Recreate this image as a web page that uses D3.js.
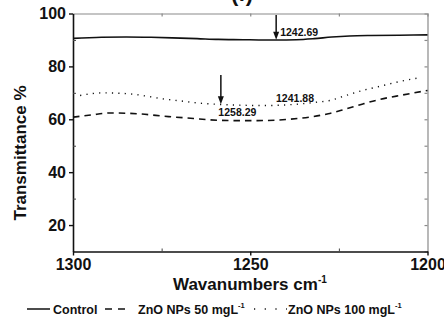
<!DOCTYPE html>
<html>
<head>
<meta charset="utf-8">
<script src="https://cdn.jsdelivr.net/npm/d3@7"></script>
<style>
  html, body { margin: 0; padding: 0; background: #fff; }
  svg { display: block; }
  text { font-family: Arial, "Liberation Sans", sans-serif; fill: #111; }
</style>
</head>
<body>
<svg id="chart" width="444" height="320"></svg>
<script>
// FTIR spectra, 1300–1200 cm-1 window
const controlWave = [1300, 1292, 1285, 1278, 1272, 1265, 1259, 1252, 1247, 1242.69, 1237, 1232, 1227, 1222, 1216, 1208, 1200];
const controlT    = [90.6, 91.0, 91.1, 91.0, 90.8, 90.5, 90.2, 90.1, 90.0, 90.0, 90.1, 90.5, 91.1, 91.5, 91.7, 91.8, 91.9];

const zn50Wave = [1300, 1295, 1289.6, 1282, 1273, 1266, 1261.4, 1258.29, 1255, 1248, 1240, 1232.4, 1228, 1224, 1218, 1213.5, 1207, 1200];
const zn50T    = [60.8, 61.6, 62.4, 62.1, 61.0, 60.3, 59.8, 59.6, 59.5, 59.5, 59.9, 61.0, 62.1, 63.5, 65.9, 67.5, 69.2, 70.9];

const zn100Wave = [1298, 1291.5, 1284, 1279, 1274.6, 1270, 1265, 1258.29, 1252, 1246, 1241.88, 1236, 1231, 1227.6, 1223, 1218.3, 1213, 1208.8, 1202.3];
const zn100T    = [69.0, 70.0, 69.6, 68.7, 67.7, 67.0, 66.2, 65.6, 65.3, 65.2, 65.3, 65.8, 66.5, 67.1, 69.0, 70.9, 72.6, 74.0, 75.7];

const yTicks = [20, 40, 60, 80, 100];
const yMinor = [30, 50, 70, 90];
const xTicks = [1300, 1250, 1200];
const xMinor = [1275, 1225];

const peakLabels = ["1242.69", "1241.88", "1258.29"];
const legendNames = ["Control", "ZnO NPs 50 mgL", "ZnO NPs 100 mgL"];

const svg = d3.select("#chart");
const plot = { left: 73, right: 427.5, top: 13.5, bottom: 251.5 };

const x = d3.scaleLinear().domain([1300, 1200]).range([plot.left, plot.right]);
const y = d3.scaleLinear().domain([10, 100]).range([plot.bottom, plot.top]);

// frame: top and right in light grey with inward ticks
svg.append("g")
  .attr("transform", `translate(0,${plot.top})`)
  .call(d3.axisTop(x).tickValues([1275, 1250, 1225]).tickSize(-3).tickFormat(""))
  .call(g => g.selectAll("path,line").attr("stroke", "#8a8a8a").attr("stroke-width", 1.2));
svg.append("g")
  .attr("transform", `translate(${plot.right},0)`)
  .call(d3.axisRight(y).tickValues(d3.range(20, 100, 10)).tickSize(-3).tickFormat(""))
  .call(g => g.selectAll("path,line").attr("stroke", "#8a8a8a").attr("stroke-width", 1.2));

// left axis
const yAxis = svg.append("g")
  .attr("transform", `translate(${plot.left},0)`)
  .call(d3.axisLeft(y).tickValues(yTicks).tickSize(4).tickSizeOuter(0).tickPadding(3).tickFormat(d3.format("d")));
yAxis.select(".domain").attr("stroke", "#111").attr("stroke-width", 1.6);
yAxis.selectAll(".tick line").attr("stroke", "#111").attr("stroke-width", 1.4);
yAxis.selectAll(".tick text").attr("font-size", 16).attr("font-weight", "bold").attr("fill", "#111")
  .attr("font-family", "Arial, 'Liberation Sans', sans-serif");
svg.append("g")
  .attr("transform", `translate(${plot.left},0)`)
  .call(d3.axisLeft(y).tickValues(yMinor).tickSize(-3).tickFormat(""))
  .call(g => g.select(".domain").remove())
  .call(g => g.selectAll("line").attr("stroke", "#444").attr("stroke-width", 1));

// bottom axis
const xAxis = svg.append("g")
  .attr("transform", `translate(0,${plot.bottom})`)
  .call(d3.axisBottom(x).tickValues(xTicks).tickSize(4).tickSizeOuter(0).tickPadding(3).tickFormat(d3.format("d")));
xAxis.select(".domain").attr("stroke", "#111").attr("stroke-width", 1.6);
xAxis.selectAll(".tick line").attr("stroke", "#111").attr("stroke-width", 1.4);
xAxis.selectAll(".tick text").attr("font-size", 16).attr("font-weight", "bold").attr("fill", "#111")
  .attr("font-family", "Arial, 'Liberation Sans', sans-serif");
svg.append("g")
  .attr("transform", `translate(0,${plot.bottom})`)
  .call(d3.axisBottom(x).tickValues(xMinor).tickSize(-3).tickFormat(""))
  .call(g => g.select(".domain").remove())
  .call(g => g.selectAll("line").attr("stroke", "#444").attr("stroke-width", 1));

// spectra
const line = d3.line().x(d => x(d[0])).y(d => y(d[1])).curve(d3.curveMonotoneX);
const pairs = (w, t) => w.map((v, i) => [v, t[i]]).sort((a, b) => b[0] - a[0]);

const series = [
  { data: pairs(controlWave, controlT), dash: null, width: 1.6 },
  { data: pairs(zn50Wave, zn50T), dash: "6.5,5", width: 1.6 },
  { data: pairs(zn100Wave, zn100T), dash: "1.2,5.2", width: 1.4 }
];
svg.append("g").selectAll("path").data(series).join("path")
  .attr("d", d => line(d.data))
  .attr("fill", "none")
  .attr("stroke", "#111")
  .attr("stroke-width", d => d.width)
  .attr("stroke-dasharray", d => d.dash);

// peak arrows
function arrow(wave, y0, y1) {
  const xp = x(wave);
  svg.append("line").attr("x1", xp).attr("x2", xp).attr("y1", y0).attr("y2", y1 - 6)
    .attr("stroke", "#111").attr("stroke-width", 1.5);
  svg.append("path")
    .attr("d", `M${xp - 3},${y1 - 8} L${xp + 3},${y1 - 8} L${xp},${y1} Z`)
    .attr("fill", "#111");
}
arrow(+peakLabels[0], 15, y(90.1));
arrow(+peakLabels[2], 75, y(65.7));

// peak labels
function peakText(txt, xp, yp) {
  svg.append("text").attr("x", xp).attr("y", yp)
    .attr("font-size", 10.5).attr("font-weight", "bold")
    .attr("dominant-baseline", "middle").text(txt);
}
peakText(peakLabels[0], x(+peakLabels[0]) + 4, 33.5);
peakText(peakLabels[1], x(+peakLabels[1]) - 3, 99.5);
peakText(peakLabels[2], x(+peakLabels[2]) - 2.5, 113);

// panel tag, partly clipped at the top edge
svg.append("text").attr("x", 242).attr("y", 1).attr("text-anchor", "middle")
  .attr("font-family", "'Times New Roman', 'Liberation Serif', serif")
  .attr("font-size", 22).attr("font-weight", "bold").text("(f)");

// axis titles
svg.append("text")
  .attr("transform", `translate(26,153) rotate(-90)`)
  .attr("text-anchor", "middle").attr("font-size", 17).attr("font-weight", "bold")
  .text("Transmittance %");

const xt = svg.append("text").attr("x", 173).attr("y", 290)
  .attr("font-size", 17).attr("font-weight", "bold");
xt.append("tspan").text("Wavanumbers cm");
xt.append("tspan").attr("dy", -7).attr("font-size", 10).text("-1");

// legend
const legendItems = [
  { name: legendNames[0], sup: null, dash: null, x0: 27, x1: 50, tx: 53 },
  { name: legendNames[1], sup: "-1", dash: "7,6", x0: 105, x1: 125, tx: 138 },
  { name: legendNames[2], sup: "-1", dash: "1.2,9.5", x0: 254, x1: 287, tx: 288 }
];
const lg = svg.append("g");
lg.selectAll("line").data(legendItems).join("line")
  .attr("x1", d => d.x0).attr("x2", d => d.x1).attr("y1", 309).attr("y2", 309)
  .attr("stroke", "#111").attr("stroke-width", 1.5)
  .attr("stroke-dasharray", d => d.dash);
const lt = lg.selectAll("text").data(legendItems).join("text")
  .attr("x", d => d.tx).attr("y", 314)
  .attr("font-size", 12.5).attr("font-weight", "bold");
lt.append("tspan").text(d => d.name);
lt.filter(d => d.sup).append("tspan").attr("dy", -6).attr("font-size", 7.5).text(d => d.sup);
</script>
</body>
</html>
